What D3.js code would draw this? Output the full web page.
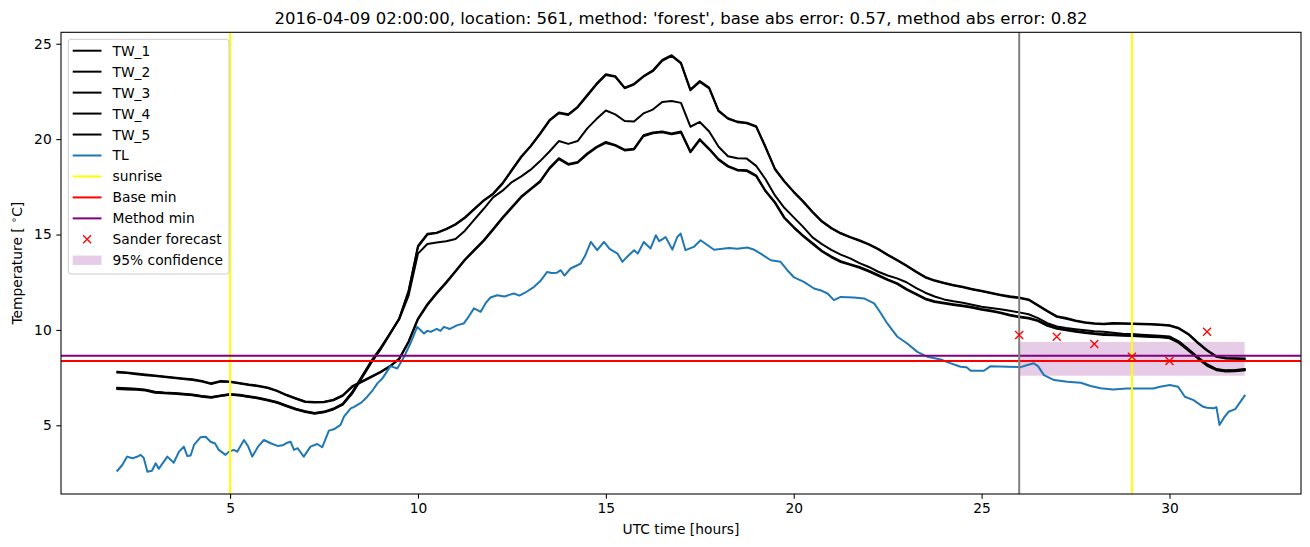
<!DOCTYPE html>
<html><head><meta charset="utf-8">
<script src="https://cdn.jsdelivr.net/npm/d3@7"></script>
<style>body{margin:0;background:#fff}svg{display:block;font-family:"DejaVu Sans",sans-serif}</style>
</head><body><svg id="c" width="1310" height="547"></svg>
<script>
// ---------------- data ----------------
const hourStart = 2, hourStep = 0.25; // TW series sampled every 15 min from 02:00
const TW_1 = [6.94,6.92,6.90,6.85,6.74,6.70,6.68,6.64,6.59,6.52,6.47,6.55,6.62,6.58,6.50,6.43,6.32,6.20,6.02,5.85,
  5.72,5.63,5.70,5.85,6.10,6.70,7.50,8.30,9.00,9.80,10.60,12.00,14.40,15.04,15.10,15.30,15.55,15.90,16.35,16.80,
  17.15,17.70,18.40,19.10,19.65,20.30,21.00,21.40,21.30,21.70,22.30,22.90,23.40,23.30,22.70,22.90,23.30,23.60,24.15,24.40,
  24.00,22.60,23.05,22.70,21.50,21.10,20.92,20.86,20.68,19.60,18.45,17.80,17.25,16.75,16.20,15.70,15.35,15.08,14.88,14.70,
  14.50,14.25,13.95,13.67,13.38,13.07,12.78,12.60,12.47,12.36,12.26,12.15,12.05,11.95,11.85,11.76,11.70,11.60,11.30,11.00,
  10.72,10.62,10.50,10.40,10.35,10.33,10.36,10.35,10.34,10.33,10.31,10.29,10.25,10.10,9.80,9.35,8.95,8.62,8.53,8.52,8.50];
const TW_2 = [6.90,6.88,6.87,6.82,6.71,6.68,6.66,6.62,6.57,6.50,6.45,6.53,6.60,6.56,6.48,6.41,6.30,6.18,6.00,5.83,
  5.70,5.61,5.68,5.83,6.08,6.66,7.45,8.26,8.96,9.76,10.58,12.05,14.35,15.00,15.08,15.27,15.52,15.87,16.32,16.77,
  17.12,17.66,18.36,19.06,19.62,20.26,20.96,21.36,21.27,21.66,22.26,22.86,23.36,23.27,22.67,22.86,23.27,23.56,24.10,24.36,
  23.96,22.56,23.00,22.66,21.46,21.07,20.89,20.83,20.65,19.56,18.42,17.77,17.22,16.72,16.17,15.67,15.32,15.05,14.85,14.67,
  14.47,14.22,13.92,13.64,13.35,13.04,12.75,12.57,12.44,12.33,12.23,12.12,12.02,11.92,11.82,11.73,11.67,11.57,11.27,10.97,
  10.69,10.59,10.47,10.37,10.32,10.30,10.33,10.32,10.31,10.30,10.28,10.26,10.22,10.07,9.77,9.31,8.91,8.59,8.50,8.49,8.47];
const TW_3 = [6.97,6.94,6.92,6.87,6.76,6.72,6.70,6.66,6.61,6.54,6.49,6.57,6.64,6.60,6.52,6.45,6.34,6.22,6.04,5.87,
  5.74,5.65,5.72,5.88,6.14,6.75,7.55,8.35,9.05,9.80,10.55,11.80,14.00,14.50,14.58,14.65,14.77,15.20,15.78,16.35,
  16.95,17.30,17.75,18.05,18.40,18.85,19.35,19.90,19.75,19.90,20.55,21.05,21.50,21.30,20.95,20.92,21.35,21.55,21.95,22.00,
  21.90,20.65,20.90,20.40,19.60,19.10,19.00,18.98,18.60,17.90,17.05,16.40,15.90,15.40,14.85,14.50,14.20,13.95,13.75,13.50,
  13.30,13.05,12.85,12.70,12.50,12.20,11.95,11.75,11.60,11.50,11.42,11.32,11.22,11.15,11.08,11.00,10.92,10.82,10.62,10.35,
  10.18,10.10,10.04,9.98,9.93,9.90,9.85,9.80,9.78,9.75,9.72,9.70,9.66,9.40,9.00,8.58,8.20,7.95,7.88,7.90,7.95];
const TW_4 = [7.81,7.77,7.71,7.66,7.61,7.56,7.51,7.46,7.41,7.33,7.20,7.32,7.30,7.22,7.14,7.08,6.98,6.82,6.60,6.42,
  6.25,6.22,6.24,6.34,6.58,7.05,7.30,7.55,7.80,8.10,8.50,9.40,10.60,11.35,11.95,12.50,13.10,13.70,14.20,14.70,
  15.30,15.90,16.45,17.00,17.40,17.80,18.50,19.00,18.70,18.80,19.25,19.60,19.85,19.70,19.45,19.50,20.20,20.35,20.40,20.30,
  20.40,19.35,20.00,19.50,18.95,18.60,18.40,18.37,18.10,17.30,16.70,15.90,15.40,14.95,14.55,14.15,13.85,13.60,13.45,13.30,
  13.10,12.88,12.65,12.45,12.15,11.90,11.65,11.50,11.42,11.35,11.28,11.20,11.10,11.02,10.92,10.80,10.70,10.64,10.50,10.25,
  10.10,10.02,9.95,9.88,9.82,9.78,9.76,9.74,9.72,9.70,9.67,9.65,9.60,9.36,8.96,8.55,8.16,7.93,7.86,7.88,7.92];
const TW_5 = [7.77,7.74,7.68,7.63,7.58,7.53,7.48,7.43,7.38,7.30,7.17,7.29,7.27,7.19,7.11,7.05,6.95,6.79,6.57,6.39,
  6.22,6.19,6.21,6.31,6.55,7.01,7.27,7.52,7.77,8.07,8.46,9.35,10.55,11.30,11.90,12.46,13.06,13.66,14.16,14.66,
  15.25,15.85,16.40,16.95,17.36,17.76,18.45,18.95,18.66,18.76,19.20,19.55,19.80,19.66,19.41,19.46,20.15,20.31,20.36,20.26,
  20.35,19.31,19.95,19.46,18.91,18.56,18.36,18.33,18.06,17.26,16.66,15.86,15.36,14.91,14.51,14.11,13.81,13.56,13.41,13.26,
  13.06,12.84,12.61,12.41,12.11,11.86,11.61,11.46,11.38,11.31,11.24,11.16,11.06,10.98,10.88,10.76,10.66,10.60,10.46,10.21,
  10.06,9.98,9.91,9.84,9.78,9.74,9.72,9.70,9.68,9.66,9.63,9.61,9.56,9.32,8.92,8.51,8.12,7.89,7.82,7.84,7.88];
const twSeries = [TW_1, TW_2, TW_3, TW_4, TW_5];

const tlHours = [2.00,2.13,2.26,2.40,2.52,2.62,2.70,2.80,2.92,3.02,3.10,3.33,3.50,3.64,3.77,3.86,3.95,4.04,4.21,4.35,
  4.48,4.60,4.70,4.88,4.97,5.10,5.19,5.37,5.48,5.59,5.75,5.90,6.08,6.26,6.40,6.52,6.61,6.70,6.80,6.96,
  7.14,7.32,7.45,7.63,7.76,7.94,8.03,8.21,8.30,8.50,8.65,8.80,8.92,9.05,9.27,9.45,9.63,9.80,9.98,10.16,
  10.25,10.34,10.50,10.60,10.69,10.85,11.05,11.22,11.35,11.49,11.67,11.80,11.93,12.11,12.30,12.45,12.55,12.70,12.85,13.09,
  13.25,13.44,13.55,13.70,13.80,13.90,14.06,14.20,14.33,14.45,14.60,14.77,14.95,15.10,15.31,15.44,15.55,15.75,15.85,16.01,
  16.19,16.33,16.42,16.50,16.59,16.77,16.90,16.99,17.12,17.34,17.52,17.70,17.88,18.10,18.28,18.50,18.77,18.95,19.12,19.39,
  19.65,19.83,20.01,20.27,20.54,20.75,20.90,21.07,21.25,21.60,21.87,22.14,22.31,22.49,22.76,23.02,23.29,23.56,23.91,24.18,
  24.44,24.60,24.71,25.06,25.24,25.69,26.04,26.22,26.39,26.50,26.66,26.93,27.28,27.64,27.90,28.17,28.50,28.86,29.57,29.75,
  30.01,30.23,30.41,30.64,30.90,31.00,31.17,31.25,31.33,31.45,31.57,31.75,32.00];
const tlValues = [2.62,2.92,3.36,3.27,3.35,3.45,3.30,2.57,2.62,3.01,2.72,3.36,3.04,3.62,3.88,3.39,3.42,3.97,4.37,4.40,
  4.14,4.05,3.71,3.45,3.62,3.71,3.62,4.23,3.90,3.36,3.90,4.23,4.06,3.92,3.95,4.09,4.14,3.71,3.80,3.36,
  3.88,4.02,3.85,4.72,4.79,5.02,5.45,5.89,5.97,6.20,6.50,6.85,7.20,7.45,8.10,7.98,8.59,9.30,10.16,9.81,
  9.95,9.90,10.05,9.95,10.16,10.05,10.25,10.34,10.70,11.13,10.95,11.40,11.70,11.82,11.75,11.85,11.91,11.80,11.95,12.26,
  12.55,13.04,12.98,13.00,13.13,12.85,13.22,13.35,13.48,13.90,14.61,14.18,14.61,14.25,14.00,13.57,13.80,14.18,14.00,14.61,
  14.27,14.96,14.65,14.75,14.87,14.21,14.87,15.05,14.18,14.35,14.70,14.45,14.20,14.25,14.30,14.25,14.32,14.20,14.00,13.65,
  13.57,13.13,12.75,12.52,12.17,12.05,11.91,11.56,11.73,11.70,11.65,11.39,10.90,10.34,9.64,9.29,8.85,8.59,8.45,8.25,
  8.07,8.05,7.86,7.86,8.10,8.07,8.05,8.16,8.25,8.10,7.63,7.37,7.28,7.23,7.06,6.94,6.88,6.93,6.93,7.02,
  7.11,7.02,6.50,6.32,5.97,5.92,5.89,5.95,5.02,5.40,5.71,5.85,6.55];

const sunriseHours = [5, 29];
const forecastStartHour = 26;
const baseMin = 8.37, methodMin = 8.64;
const forecastHours = [26, 27, 28, 29, 30, 31];
const forecastValues = [9.73, 9.64, 9.26, 8.59, 8.37, 9.90];
const confHours = [26, 32];
const confBounds = [7.60, 9.37];
const xTicks = [5, 10, 15, 20, 25, 30];
const yTicks = [5, 10, 15, 20, 25];
const xDomain = [0.5, 33.5], yDomain = [1.4, 25.6];
const titleText = "2016-04-09 02:00:00, location: 561, method: 'forest', base abs error: 0.57, method abs error: 0.82";
const legendLabels = ["TW_1","TW_2","TW_3","TW_4","TW_5","TL","sunrise","Base min","Method min","Sander forecast","95% confidence"];

// ---------------- drawing ----------------
const svg = d3.select("#c");
const L = 61, R = 1301, T = 32.3, B = 494;
const x = d3.scaleLinear().domain(xDomain).range([L, R]);
const y = d3.scaleLinear().domain(yDomain).range([B, T]);
const fs = 13.8;

svg.append("rect").attr("width", 1310).attr("height", 547).attr("fill", "#fff");
svg.append("clipPath").attr("id", "clip").append("rect")
  .attr("x", L).attr("y", T).attr("width", R - L).attr("height", B - T);
const plot = svg.append("g").attr("clip-path", "url(#clip)");

// confidence band
plot.append("rect")
  .attr("x", x(confHours[0])).attr("width", x(confHours[1]) - x(confHours[0]))
  .attr("y", y(confBounds[1])).attr("height", y(confBounds[0]) - y(confBounds[1]))
  .attr("fill", "#800080").attr("fill-opacity", 0.2);

const hourAt = i => hourStart + i * hourStep;
const twLine = d3.line().x((d, i) => x(hourAt(i))).y(d => y(d));
twSeries.forEach(s => {
  plot.append("path").attr("d", twLine(s)).attr("fill", "none")
    .attr("stroke", "#000").attr("stroke-width", 2).attr("stroke-linejoin", "round").attr("stroke-linecap", "square");
});
const tlLine = d3.line().x(d => x(d[0])).y(d => y(d[1]));
plot.append("path").attr("d", tlLine(d3.zip(tlHours, tlValues))).attr("fill", "none")
  .attr("stroke", "#1f77b4").attr("stroke-width", 2).attr("stroke-linejoin", "round").attr("stroke-linecap", "square");

sunriseHours.forEach(h => {
  plot.append("line").attr("x1", x(h)).attr("x2", x(h)).attr("y1", T).attr("y2", B)
    .attr("stroke", "#ffff00").attr("stroke-width", 2);
});
plot.append("line").attr("x1", L).attr("x2", R).attr("y1", y(baseMin)).attr("y2", y(baseMin))
  .attr("stroke", "#ff0000").attr("stroke-width", 2);
plot.append("line").attr("x1", L).attr("x2", R).attr("y1", y(methodMin)).attr("y2", y(methodMin))
  .attr("stroke", "#800080").attr("stroke-width", 2);
plot.append("line").attr("x1", x(forecastStartHour)).attr("x2", x(forecastStartHour)).attr("y1", T).attr("y2", B)
  .attr("stroke", "#808080").attr("stroke-width", 2);

const xMark = (cx, cy, r) => `M${cx - r},${cy - r}L${cx + r},${cy + r}M${cx - r},${cy + r}L${cx + r},${cy - r}`;
forecastHours.forEach((h, i) => {
  plot.append("path").attr("d", xMark(x(h), y(forecastValues[i]), 4))
    .attr("stroke", "#ff0000").attr("stroke-width", 1.33).attr("fill", "none");
});

// axes
const xAxis = d3.axisBottom(x).tickValues(xTicks).tickSize(4.67).tickPadding(4.2).tickFormat(d3.format("d"));
const yAxis = d3.axisLeft(y).tickValues(yTicks).tickSize(4.67).tickPadding(4.67).tickFormat(d3.format("d"));
const gx = svg.append("g").attr("transform", `translate(0,${B})`).call(xAxis);
const gy = svg.append("g").attr("transform", `translate(${L},0)`).call(yAxis);
[gx, gy].forEach(g => {
  g.select(".domain").remove();
  g.selectAll("line").attr("stroke", "#000").attr("stroke-width", 1.07);
  g.selectAll("text").attr("font-family", "DejaVu Sans").attr("font-size", fs).attr("fill", "#000");
});
svg.append("rect").attr("x", L).attr("y", T).attr("width", R - L).attr("height", B - T)
  .attr("fill", "none").attr("stroke", "#000").attr("stroke-width", 1.07);

// labels
svg.append("text").attr("x", (L + R) / 2).attr("y", 23.5).attr("text-anchor", "middle")
  .attr("font-size", 16.5).attr("fill", "#000").text(titleText);
svg.append("text").attr("x", (L + R) / 2).attr("y", 534).attr("text-anchor", "middle")
  .attr("font-size", fs).attr("fill", "#000").text("UTC time [hours]");
const yl = svg.append("text").attr("transform", `translate(22,${(T + B) / 2}) rotate(-90)`)
  .attr("text-anchor", "middle").attr("font-size", fs).attr("fill", "#000");
yl.append("tspan").text("Temperature [ ");
yl.append("tspan").attr("font-size", 9.8).attr("dy", -5).text("∘");
yl.append("tspan").attr("dy", 5).text("C]");

// legend
const lg = svg.append("g");
lg.append("rect").attr("x", 68.3).attr("y", 39.3).attr("width", 160.7).attr("height", 234.7)
  .attr("rx", 2.7).attr("fill", "#fff").attr("fill-opacity", 0.8).attr("stroke", "#cccccc").attr("stroke-width", 1);
const styles = [
  {t: "line", c: "#000"}, {t: "line", c: "#000"}, {t: "line", c: "#000"}, {t: "line", c: "#000"}, {t: "line", c: "#000"},
  {t: "line", c: "#1f77b4"}, {t: "line", c: "#ffff00"}, {t: "line", c: "#ff0000"}, {t: "line", c: "#800080"},
  {t: "x", c: "#ff0000"}, {t: "patch", c: "#800080"}];
legendLabels.forEach((lab, i) => {
  const cy = 50.7 + i * 20.96, st = styles[i];
  if (st.t === "line") {
    lg.append("line").attr("x1", 72.7).attr("x2", 101.5).attr("y1", cy).attr("y2", cy)
      .attr("stroke", st.c).attr("stroke-width", 2);
  } else if (st.t === "x") {
    lg.append("path").attr("d", xMark(87.1, cy, 4)).attr("stroke", st.c).attr("stroke-width", 1.33).attr("fill", "none");
  } else {
    lg.append("rect").attr("x", 72.7).attr("y", cy - 4.7).attr("width", 28.8).attr("height", 9.3)
      .attr("fill", st.c).attr("fill-opacity", 0.2);
  }
  lg.append("text").attr("x", 112.5).attr("y", cy).attr("dy", "0.36em")
    .attr("font-size", fs).attr("fill", "#000").text(lab);
});
</script></body></html>
